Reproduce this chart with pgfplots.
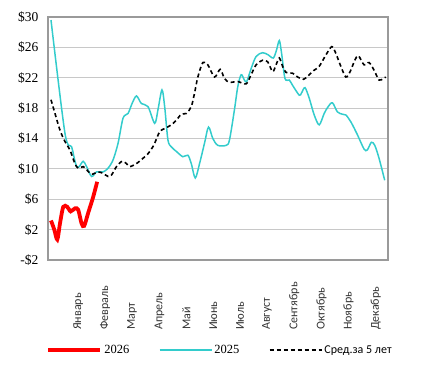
\documentclass[border=0pt]{standalone}
\usepackage{pgfplots}
\pgfplotsset{compat=1.18}
\usepackage{fontspec}
\setmainfont{Liberation Serif}
\newfontfamily\calfont{Carlito}
\definecolor{cyan25}{HTML}{33CCCC}
\definecolor{gridc}{HTML}{C8C8C8}
\definecolor{axc}{HTML}{9A9A9A}
\definecolor{labc}{HTML}{333333}
\begin{document}
\begin{tikzpicture}
\useasboundingbox (0,0) rectangle (435pt,381pt);
\begin{axis}[
  at={(48pt,121pt)}, anchor=south west,
  scale only axis, width=340pt, height=243pt,
  xmin=0, xmax=341, ymin=-2, ymax=30,
  ytick={-2,2,6,10,14,18,22,26,30},
  yticklabels={-\$2,\$2,\$6,\$10,\$14,\$18,\$22,\$26,\$30},
  xtick={30.3,57.3,84.3,111.7,138.7,165.7,192.7,219.7,247,274.3,301.3,328.7},
  xticklabels={Январь,Февраль,Март,Апрель,Май,Июнь,Июль,Август,Сентябрь,Октябрь,Ноябрь,Декабрь},
  xticklabel style={font=\calfont\fontsize{12}{13}\selectfont, text=labc, yshift=-70pt, rotate=90, anchor=west, inner sep=0pt},
  yticklabel style={font=\fontsize{13.5}{14}\selectfont, xshift=-6pt},
  major tick length=0pt,
  ymajorgrids, major grid style={gridc, line width=0.8pt},
  axis line style={axc, line width=1.3pt},
]
\addplot[cyan25, line width=1.5pt, smooth] coordinates {
(3,29.6)(17,14.7)(23.7,12.9)(26,11.6)(28.7,10.3)(31.3,10.3)(35.3,11.0)(38.7,10.3)(43.7,9.0)(48.7,9.6)(55.3,9.6)(60.3,10.1)(65.3,11.2)(70.3,13.4)(75.3,16.7)(80.3,17.3)(84.3,18.6)(88.7,19.6)(93.7,18.6)(100.3,18.2)(107,16.0)(110.3,17.8)(114.3,20.4)(117,18.2)(120.3,13.8)(123.7,12.9)(128.7,12.3)(135.3,11.6)(140.3,11.8)(143.7,10.7)(147.7,8.8)(152,10.7)(157,13.4)(161,15.5)(165.3,14.0)(170.3,13.1)(178.7,13.1)(182,13.8)(187,17.8)(190.3,20.8)(193.7,22.4)(197,21.7)(199.3,21.5)(203.7,23.2)(208.7,24.8)(215.3,25.3)(221,25.0)(226,24.6)(229.3,25.7)(232,26.9)(234.3,25.2)(237.7,21.9)(242,21.7)(245.3,21.0)(252,19.7)(254.3,20.0)(257.7,20.7)(262,19.3)(267,17.1)(272,15.8)(277,17.3)(281,18.2)(285.3,18.7)(290.3,17.5)(295.3,17.2)(298.7,17.1)(303.7,16.2)(310.3,14.5)(317,12.6)(320.3,12.5)(324.3,13.5)(327.7,13.1)(332,11.4)(337.7,8.5)
};
\addplot[black, line width=1.6pt, dash pattern=on 4pt off 3pt, smooth] coordinates {
(3,19.1)(7,17.3)(12,15.1)(17,13.6)(22,12.5)(27,10.7)(30.3,10.1)(35.3,10.3)(38.7,9.9)(43.7,9.3)(50.3,9.6)(55.3,9.4)(60.3,9.0)(63.7,9.2)(68.7,10.3)(74.3,11.0)(78.7,10.7)(82,10.3)(88.7,10.7)(95.3,11.4)(100.3,12.0)(106,13.1)(112,14.9)(117,15.3)(123.7,15.8)(128.7,16.4)(133.7,17.2)(138.7,17.3)(143.7,18.2)(147,20.0)(150.3,22.1)(155.3,24.0)(160.3,23.7)(167,22.1)(172.7,23.1)(177,21.9)(182,21.4)(190.3,21.5)(198.7,21.2)(203.7,22.4)(208.7,23.7)(215.3,24.3)(220.3,24.1)(225.3,22.8)(228.7,23.7)(232,24.6)(235.3,23.5)(238.7,22.7)(245.3,22.6)(250.3,22.1)(256.3,21.8)(260.3,22.2)(267,23.0)(272,23.5)(278.7,25.0)(284.7,26.1)(288.7,25.2)(293.7,23.5)(298.7,22.1)(303,22.8)(307.7,24.3)(311.3,24.9)(317,23.7)(322,24.0)(327,23.0)(332,21.7)(336.3,21.9)(338.7,22.1)
};
\addplot[red, line width=3.8pt, smooth] coordinates {
(3,3.2)(6.3,2.0)(9.3,0.7)(12,2.8)(15.3,5.0)(19.3,5.0)(22.7,4.4)(27,4.8)(30.3,4.6)(33.7,2.8)(36.3,2.5)(40.3,4.2)(45.3,6.3)(49.3,8.3)
};
\end{axis}
\begin{axis}[
  at={(48pt,121pt)}, anchor=south west,
  scale only axis, width=340pt, height=243pt,
  xmin=0, xmax=341, ymin=-2, ymax=30, hide axis,
  legend columns=3,
  legend style={at={(-0.005,-0.37)}, anchor=west, draw=none, fill=none,
    font=\fontsize{12.5}{13}\selectfont, inner sep=0pt,
    /tikz/every even column/.append style={column sep=27.5pt}},
  legend image code/.code={\draw[#1] (0pt,0pt) -- (52pt,0pt);},
]
\addlegendimage{red, line width=3.8pt}
\addlegendentry{2026}
\addlegendimage{cyan25, line width=1.5pt}
\addlegendentry{2025}
\addlegendimage{black, line width=1.6pt, dash pattern=on 4pt off 3pt}
\addlegendentry{\calfont\fontsize{12}{13}\selectfont Сред.за 5 лет}
\end{axis}
\end{tikzpicture}
\end{document}
